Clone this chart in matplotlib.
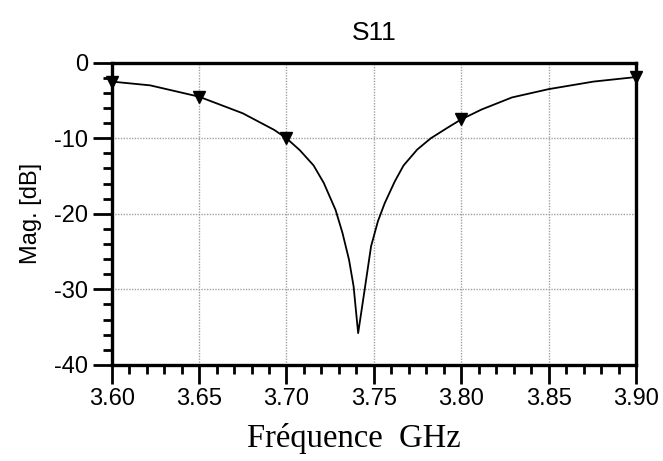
import matplotlib
matplotlib.use("Agg")
import matplotlib.pyplot as plt
from matplotlib.ticker import MultipleLocator

# S11 magnitude
freq_ghz = [3.600, 3.622, 3.650, 3.675, 3.693, 3.700, 3.7077, 3.7155, 3.7213,
            3.7281, 3.732, 3.7358, 3.7384, 3.741, 3.7445, 3.7484, 3.7523,
            3.7562, 3.762, 3.767, 3.7748, 3.7826, 3.7922, 3.800, 3.8116,
            3.829, 3.850, 3.8757, 3.900]
mag_db = [-2.5, -3.0, -4.5, -6.7, -8.9, -10.0, -11.6, -13.6, -15.9,
          -19.5, -22.5, -26.1, -29.6, -35.8, -30.4, -24.3, -21.0,
          -18.6, -15.7, -13.6, -11.5, -10.0, -8.6, -7.5, -6.2,
          -4.6, -3.5, -2.5, -1.9]

# marker positions
marker_freq = [3.60, 3.65, 3.70, 3.80, 3.90]
marker_mag = [-2.5, -4.5, -10.0, -7.5, -1.9]

xticks = [3.60, 3.65, 3.70, 3.75, 3.80, 3.85, 3.90]
yticks = [0, -10, -20, -30, -40]

plt.rcParams["font.family"] = ["Liberation Sans", "DejaVu Sans"]
plt.rcParams["axes.unicode_minus"] = False

fig = plt.figure(figsize=(6.63, 4.61), dpi=100)
ax = fig.add_axes([0.1685, 0.2085, 0.7908, 0.6555])

ax.plot(freq_ghz, mag_db, color="black", lw=1.3)
ax.plot(marker_freq, marker_mag, "v", color="black", ms=8, clip_on=False, zorder=5)

ax.set_xlim(3.60, 3.90)
ax.set_ylim(-40, 0)
ax.set_xticks(xticks)
ax.set_xticklabels([f"{t:.2f}" for t in xticks])
ax.set_yticks(yticks)
ax.xaxis.set_minor_locator(MultipleLocator(0.01))
ax.yaxis.set_minor_locator(MultipleLocator(2))

ax.tick_params(which="major", length=13.5, width=2, labelsize=17, pad=3.5)
ax.tick_params(which="minor", length=6.5, width=2)

for s in ax.spines.values():
    s.set_linewidth(2.4)

ax.grid(True, which="major", color="#a0a0a0", ls=(0, (1, 1)), lw=1)

ax.set_title("S11", fontsize=19, pad=16)
ax.set_ylabel("Mag. [dB]", fontsize=17, labelpad=9)
ax.set_xlabel("Fréquence  GHz", fontsize=23.5, family="Liberation Serif",
              labelpad=9, x=0.462)

fig.savefig("out.png", dpi=100)
